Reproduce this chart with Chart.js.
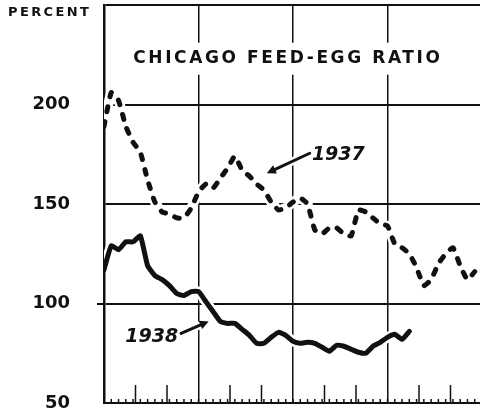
<!DOCTYPE html>
<html>
<head>
<meta charset="utf-8">
<script src="https://cdn.jsdelivr.net/npm/chart.js@4"></script>
<style>
  html, body { margin: 0; padding: 0; background: #fff; overflow: hidden; }
  canvas { display: block; }
</style>
</head>
<body>
<canvas id="ratioChart" width="490" height="413"></canvas>
<script>
// week of the year (0 = first week of January)
const weeks = Array.from({ length: 52 }, (_, i) => i);

// feed-egg ratio, percent
const ratio1937 = [189, 206, 202, 189, 181, 176, 162, 151, 146, 145, 143, 143, 148, 156, 160, 158,
  163, 168, 174, 167, 164, 160, 157, 151, 147, 148, 151, 153, 150, 137, 135, 138,
  138, 135, 134, 147, 146, 143, 140, 139, 130, 128, 125, 118, 109, 112, 120, 125,
  128, 119, 112, 116];
const ratio1938 = [117, 129, 127, 131, 131, 134, 119, 114, 112, 109, 105, 104, 106, 106, 101, 96,
  91, 90, 90, 87, 84, 80, 80, 83, 85.5, 84, 81, 80, 80.5, 80, 78, 76,
  79, 78.5, 77, 75.5, 75, 78.5, 80.5, 83, 84.5, 82, 86];

const yTicks = [50, 100, 150, 200, 250];
const seriesLabels = ["1937", "1938"];

const ink = "#111";

const toPoints = (vals) => vals.map((v, i) => ({ x: weeks[i], y: v }));

// text + arrow notes, in data units (week, percent)
const notes = [
  { text: seriesLabels[0], at: [28.6, 172], align: "left", tail: [28.3, 175.5], head: [22.4, 165.5] },
  { text: seriesLabels[1], at: [10.2, 80.5], align: "right", tail: [10.6, 85], head: [14.4, 91] },
];

const decorations = {
  id: "decorations",
  afterDatasetsDraw(chart) {
    const { ctx, chartArea, scales: { x, y } } = chart;
    ctx.save();

    // weekly and monthly ticks along the bottom
    ctx.strokeStyle = ink;
    ctx.lineWidth = 1.5;
    for (let w = 1; w < 52; w++) {
      const px = x.getPixelForValue(w);
      ctx.beginPath();
      ctx.moveTo(px, chartArea.bottom);
      ctx.lineTo(px, chartArea.bottom - 4);
      ctx.stroke();
    }
    for (let m = 1; m < 12; m++) {
      if (m % 3 === 0) continue;
      const px = x.getPixelForValue((m * 52) / 12);
      ctx.beginPath();
      ctx.moveTo(px, chartArea.bottom);
      ctx.lineTo(px, chartArea.bottom - 18);
      ctx.stroke();
    }

    // title
    ctx.font = "bold 17px 'DejaVu Sans'";
    ctx.letterSpacing = "2.6px";
    ctx.textBaseline = "middle";
    ctx.textAlign = "center";
    const title = "CHICAGO FEED-EGG RATIO";
    const tw = ctx.measureText(title).width;
    const tx = x.getPixelForValue(25.3);
    const ty = y.getPixelForValue(223);
    ctx.fillStyle = "#fff";
    ctx.fillRect(tx - tw / 2 - 4, ty - 16, tw + 8, 32);
    ctx.fillStyle = ink;
    ctx.fillText(title, tx, ty);

    // unit label
    ctx.font = "bold 13px 'DejaVu Sans'";
    ctx.letterSpacing = "2.4px";
    ctx.textAlign = "left";
    ctx.fillText("PERCENT", 8, 13);

    // series notes with arrows
    ctx.letterSpacing = "0px";
    ctx.font = "italic bold 19px 'DejaVu Sans'";
    ctx.textBaseline = "alphabetic";
    notes.forEach((n) => {
      const px = x.getPixelForValue(n.at[0]);
      const py = y.getPixelForValue(n.at[1]);
      ctx.textAlign = n.align;
      ctx.fillStyle = ink;
      ctx.fillText(n.text, px, py);

      const x0 = x.getPixelForValue(n.tail[0]), y0 = y.getPixelForValue(n.tail[1]);
      const x1 = x.getPixelForValue(n.head[0]), y1 = y.getPixelForValue(n.head[1]);
      const ang = Math.atan2(y1 - y0, x1 - x0);
      ctx.lineCap = "round";
      ctx.strokeStyle = "#fff";
      ctx.lineWidth = 8;
      ctx.beginPath(); ctx.moveTo(x0, y0); ctx.lineTo(x1, y1); ctx.stroke();
      ctx.strokeStyle = ink;
      ctx.lineWidth = 3;
      ctx.beginPath();
      ctx.moveTo(x0, y0);
      ctx.lineTo(x1 - 5 * Math.cos(ang), y1 - 5 * Math.sin(ang));
      ctx.stroke();
      ctx.beginPath();
      ctx.moveTo(x1, y1);
      ctx.lineTo(x1 - 9 * Math.cos(ang) + 4.5 * Math.sin(ang), y1 - 9 * Math.sin(ang) - 4.5 * Math.cos(ang));
      ctx.lineTo(x1 - 9 * Math.cos(ang) - 4.5 * Math.sin(ang), y1 - 9 * Math.sin(ang) + 4.5 * Math.cos(ang));
      ctx.closePath();
      ctx.fillStyle = ink;
      ctx.fill();
    });

    ctx.restore();
  },
};

const ctx = document.getElementById("ratioChart").getContext("2d");

new Chart(ctx, {
  type: "line",
  data: {
    datasets: [
      {
        label: seriesLabels[0],
        data: toPoints(ratio1937),
        borderColor: ink,
        borderWidth: 5,
        borderDash: [5, 10],
        borderCapStyle: "round",
        borderJoinStyle: "round",
        pointRadius: 0,
        tension: 0.15,
        order: 1,
      },
      {
        label: seriesLabels[1],
        data: toPoints(ratio1938),
        borderColor: ink,
        borderWidth: 5,
        borderCapStyle: "round",
        borderJoinStyle: "round",
        pointRadius: 0,
        tension: 0.15,
        order: 1,
      },
      // white halos so grid lines break where the curves cross them
      {
        label: "halo37",
        data: toPoints(ratio1937),
        borderColor: "#fff",
        borderWidth: 10,
        pointRadius: 0,
        tension: 0.15,
        order: 2,
      },
      {
        label: "halo38",
        data: toPoints(ratio1938),
        borderColor: "#fff",
        borderWidth: 10,
        pointRadius: 0,
        tension: 0.15,
        order: 2,
      },
    ],
  },
  options: {
    responsive: false,
    animation: false,
    devicePixelRatio: 1,
    layout: { padding: { top: 5, right: 8, bottom: 10, left: 0 } },
    plugins: {
      legend: { display: false },
      tooltip: { enabled: false },
    },
    scales: {
      x: {
        type: "linear",
        min: 0,
        max: 52,
        ticks: { display: false, stepSize: 13 },
        grid: { color: ink, lineWidth: 1.5, drawTicks: false },
        border: { color: ink, width: 2 },
        afterFit: (s) => { s.height = 0; },
      },
      y: {
        min: 50,
        max: 250,
        afterBuildTicks: (s) => { s.ticks = yTicks.map((v) => ({ value: v })); },
        ticks: {
          color: ink,
          padding: 27,
          font: { family: "DejaVu Sans", weight: "bold", size: 18 },
          callback: (v) => (v === 250 ? "" : v),
        },
        grid: {
          color: ink,
          lineWidth: 2,
          tickLength: 7,
          tickColor: (c) => (c.tick && c.tick.value === 100 ? ink : "rgba(0,0,0,0)"),
        },
        border: { color: ink, width: 2.5 },
        afterFit: (s) => {
          s.width = 104;
          s.paddingTop = 0;
          s.paddingBottom = 0;
        },
      },
    },
  },
  plugins: [decorations],
});
</script>
</body>
</html>
